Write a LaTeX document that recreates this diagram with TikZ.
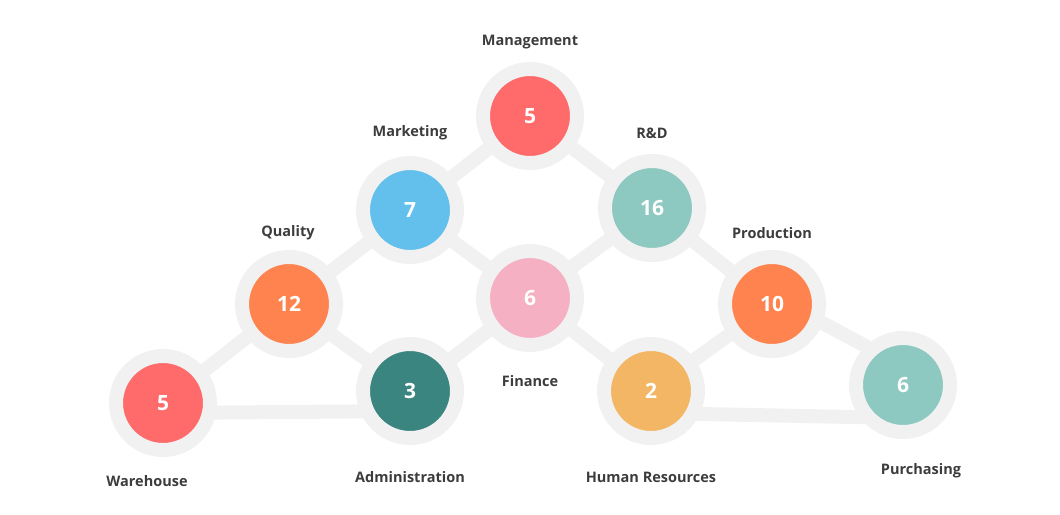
\documentclass[tikz,border=0pt]{standalone}
\usepackage{fontspec}
\setmainfont{Open Sans}
\usetikzlibrary{calc}
\definecolor{ring}{HTML}{F1F1F1}
\definecolor{txt}{HTML}{3C3C3C}
\definecolor{cred}{HTML}{FF6B6B}
\definecolor{cblue}{HTML}{63BFEB}
\definecolor{cteal}{HTML}{8DC9C1}
\definecolor{corange}{HTML}{FF834F}
\definecolor{cpink}{HTML}{F5B1C3}
\definecolor{cdark}{HTML}{3B8580}
\definecolor{cyellow}{HTML}{F2B664}
\pgfdeclarelayer{bg}
\pgfsetlayers{bg,main}
\begin{document}
\begin{tikzpicture}[x=1pt,y=-1pt,
  ball/.style={circle, minimum size=94pt, inner sep=0pt, draw=ring, line width=14pt,
    text=white, font=\fontsize{21}{21}\selectfont\bfseries},
  lbl/.style={text=txt, font=\fontsize{14.5}{14.5}\selectfont\bfseries, inner sep=0pt},
  edge/.style={draw=ring, line width=14pt}]
\useasboundingbox (0,0) rectangle (1060,514);
\node[ball, fill=cred]    (mgmt) at (530,116) {5};
\node[ball, fill=cblue]   (mkt)  at (410,210) {7};
\node[ball, fill=cteal]   (rd)   at (652,208) {16};
\node[ball, fill=corange] (qual) at (289,304) {12};
\node[ball, fill=cpink]   (fin)  at (530,298) {6};
\node[ball, fill=corange] (prod) at (772,304) {10};
\node[ball, fill=cred]    (wh)   at (163,403) {5};
\node[ball, fill=cdark]   (adm)  at (410,391) {3};
\node[ball, fill=cyellow] (hr)   at (651,391) {2};
\node[ball, fill=cteal]   (pur)  at (903,385) {6};

\node[lbl] (mgmt-l) at (530,42) {Management};
\node[lbl] (mkt-l)  at (410,133) {Marketing};
\node[lbl] (rd-l)   at (652,133) {R\&D};
\node[lbl] (qual-l) at (288,233) {Quality};
\node[lbl] (prod-l) at (772,233) {Production};
\node[lbl] (fin-l)  at (530,381) {Finance};
\node[lbl] (wh-l)   at (147,481) {Warehouse};
\node[lbl] (adm-l)  at (410,477) {Administration};
\node[lbl] (hr-l)   at (651,477) {Human Resources};
\node[lbl] (pur-l)  at (921,471) {Purchasing};

\begin{pgfonlayer}{bg}
\draw[edge] (mgmt.center) -- (mkt.center);
\draw[edge] (mgmt.center) -- (rd.center);
\draw[edge] (mkt.center) -- (qual.center);
\draw[edge] (mkt.center) -- (fin.center);
\draw[edge] (rd.center) -- (fin.center);
\draw[edge] (rd.center) -- (prod.center);
\draw[edge] (qual.center) -- (wh.center);
\draw[edge] (qual.center) -- (adm.center);
\draw[edge] (fin.center) -- (adm.center);
\draw[edge] (fin.center) -- (hr.center);
\draw[edge] (prod.center) -- (hr.center);
\draw[edge] ($(prod.center)+(0,-8)$) -- ($(pur.center)+(0,-19)$);
\draw[edge] ($(wh.center)+(0,10)$) -- ($(adm.center)+(0,20)$);
\draw[edge] ($(hr.center)+(0,22)$) -- ($(pur.center)+(0,33)$);
\end{pgfonlayer}
\end{tikzpicture}
\end{document}
